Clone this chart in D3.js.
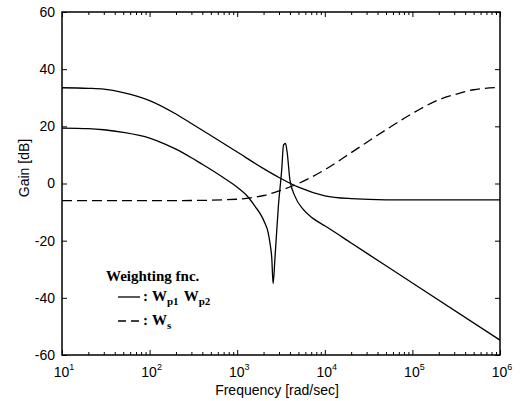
<!DOCTYPE html>
<html>
<head>
<meta charset="utf-8">
<script src="https://cdn.jsdelivr.net/npm/d3@7"></script>
<style>
  body { margin: 0; background: #fff; }
  svg { display: block; }
  .axis path { display: none; }
  .axis line { stroke: #000; stroke-width: 1; }
  .axis text { font-family: "Liberation Sans", Arial, sans-serif; font-size: 14px; fill: #000; }
  .lbl { font-family: "Liberation Sans", Arial, sans-serif; font-size: 14px; fill: #000; }
  .leg { font-family: "Liberation Serif", "Times New Roman", serif; font-weight: bold; font-size: 15px; fill: #000; }
</style>
</head>
<body>
<svg id="chart"></svg>
<script>
// upper solid curve (Wp1)
var wp1Freq = [10, 20, 30, 50, 100, 200, 300, 500, 1000, 2000, 3000, 5000, 1e4, 2e4, 5e4, 1e5, 1e6];
var wp1Gain = [33.5, 33.3, 33.0, 31.8, 29.0, 24.3, 21.0, 16.8, 11.0, 5.2, 2.1, -1.3, -4.3, -5.3, -5.7, -5.7, -5.7];

// lower solid curve with notch (Wp2)
var wp2Freq = [10, 20, 30, 50, 100, 150, 200, 300, 376, 500, 700, 1000, 1340, 1600, 1850, 2075, 2250, 2370, 2480, 2570,
               2700, 2950, 3220, 3380, 3560, 3730, 4000, 4570, 5640, 7330, 1e4, 2e4, 5e4, 1e5, 1e6];
var wp2Gain = [19.4, 19.2, 18.8, 17.9, 15.9, 13.8, 12.0, 9.0, 7.2, 4.9, 2.0, -1.3, -4.8, -8.0, -10.8, -13.9, -17, -21, -26, -35,
               -26, -8, 4.7, 13.5, 14, 10.5, 1.2, -4.5, -9, -12.2, -14.8, -20.8, -28.8, -34.8, -54.8];

// dashed curve (Ws)
var wsFreq = [10, 100, 300, 1000, 1340, 2000, 3000, 5000, 1e4, 2e4, 5e4, 1e5, 2e5, 3.2e5, 5e5, 1e6];
var wsGain = [-6.0, -6.0, -5.95, -5.5, -5.1, -4.2, -2.6, 0.0, 4.8, 10.8, 18.8, 24.5, 29.3, 31.3, 32.8, 33.6];

var yTicks = [-60, -40, -20, 0, 20, 40, 60];
var xMajor = [1e1, 1e2, 1e3, 1e4, 1e5, 1e6];
var xExp = ["1", "2", "3", "4", "5", "6"];

var W = 524, H = 401;
var pl = 62, pr = 500, pt = 12, pb = 355;

var svg = d3.select("#chart").attr("width", W).attr("height", H);

var x = d3.scaleLog().domain([10, 1e6]).range([pl, pr]);
var y = d3.scaleLinear().domain([-60, 60]).range([pb, pt]);

var xMinor = [];
for (var e = 1; e < 6; e++) {
  for (var k = 2; k < 10; k++) xMinor.push(k * Math.pow(10, e));
}

// ticks, all pointing inward
svg.append("g").attr("class", "axis").attr("transform", "translate(0," + pb + ")")
  .call(d3.axisBottom(x).tickValues(xMajor).tickSize(-5).tickSizeOuter(0).tickFormat(""));
svg.append("g").attr("class", "axis").attr("transform", "translate(0," + pb + ")")
  .call(d3.axisBottom(x).tickValues(xMinor).tickSize(-3).tickSizeOuter(0).tickFormat(""));
svg.append("g").attr("class", "axis").attr("transform", "translate(0," + pt + ")")
  .call(d3.axisTop(x).tickValues(xMajor).tickSize(-5).tickSizeOuter(0).tickFormat(""));
svg.append("g").attr("class", "axis").attr("transform", "translate(0," + pt + ")")
  .call(d3.axisTop(x).tickValues(xMinor).tickSize(-3).tickSizeOuter(0).tickFormat(""));

svg.append("g").attr("class", "axis").attr("transform", "translate(" + pl + ",0)")
  .call(d3.axisLeft(y).tickValues(yTicks).tickSize(-5).tickSizeOuter(0).tickPadding(7)
    .tickFormat(function(d) { return String(d); }));
svg.append("g").attr("class", "axis").attr("transform", "translate(" + pr + ",0)")
  .call(d3.axisRight(y).tickValues(yTicks).tickSize(-5).tickSizeOuter(0).tickFormat(""));

// x tick labels 10^n
var xl = svg.append("g").selectAll("text")
  .data(xMajor)
  .enter().append("text")
    .attr("class", "lbl")
    .attr("x", function(d) { return x(d) + 2; })
    .attr("y", 377)
    .attr("text-anchor", "middle");
xl.append("tspan").text("10");
xl.append("tspan").attr("dy", -7).style("font-size", "9px").text(function(d, i) { return xExp[i]; });

// frame
svg.append("rect")
  .attr("x", pl).attr("y", pt)
  .attr("width", pr - pl).attr("height", pb - pt)
  .attr("fill", "none").attr("stroke", "#000").attr("stroke-width", 1.5);

svg.append("text").attr("class", "lbl")
  .attr("x", 277).attr("y", 395).attr("text-anchor", "middle")
  .text("Frequency [rad/sec]");

svg.append("text").attr("class", "lbl")
  .attr("transform", "translate(29,168) rotate(-90)").attr("text-anchor", "middle")
  .text("Gain [dB]");

var line = d3.line()
  .x(function(d) { return x(d[0]); })
  .y(function(d) { return y(d[1]); })
  .curve(d3.curveMonotoneX);

function pairs(f, g) { return f.map(function(v, i) { return [v, g[i]]; }); }

svg.append("path").datum(pairs(wp1Freq, wp1Gain))
  .attr("d", line).attr("fill", "none").attr("stroke", "#000").attr("stroke-width", 1.3);
svg.append("path").datum(pairs(wp2Freq, wp2Gain))
  .attr("d", line).attr("fill", "none").attr("stroke", "#000").attr("stroke-width", 1.3);
svg.append("path").datum(pairs(wsFreq, wsGain))
  .attr("d", line).attr("fill", "none").attr("stroke", "#000").attr("stroke-width", 1.3)
  .attr("stroke-dasharray", "10,5");

// legend
var leg = svg.append("g");
leg.append("text").attr("class", "leg").attr("x", 106).attr("y", 281).text("Weighting fnc.");
leg.append("line").attr("x1", 118).attr("x2", 140).attr("y1", 297).attr("y2", 297)
  .attr("stroke", "#000").attr("stroke-width", 1.3);
leg.append("line").attr("x1", 118).attr("x2", 140).attr("y1", 321).attr("y2", 321)
  .attr("stroke", "#000").attr("stroke-width", 1.3).attr("stroke-dasharray", "8,5");
leg.append("text").attr("class", "leg").attr("x", 143).attr("y", 301).text(":");
leg.append("text").attr("class", "leg").attr("x", 143).attr("y", 325).text(":");

var t1 = leg.append("text").attr("class", "leg").attr("x", 152).attr("y", 301);
t1.append("tspan").text("W");
t1.append("tspan").attr("dy", 4).style("font-size", "11px").text("p1");
t1.append("tspan").attr("dy", -4).attr("dx", 5).text("W");
t1.append("tspan").attr("dy", 4).style("font-size", "11px").text("p2");

var t2 = leg.append("text").attr("class", "leg").attr("x", 152).attr("y", 325);
t2.append("tspan").text("W");
t2.append("tspan").attr("dy", 4).style("font-size", "11px").text("s");
</script>
</body>
</html>
